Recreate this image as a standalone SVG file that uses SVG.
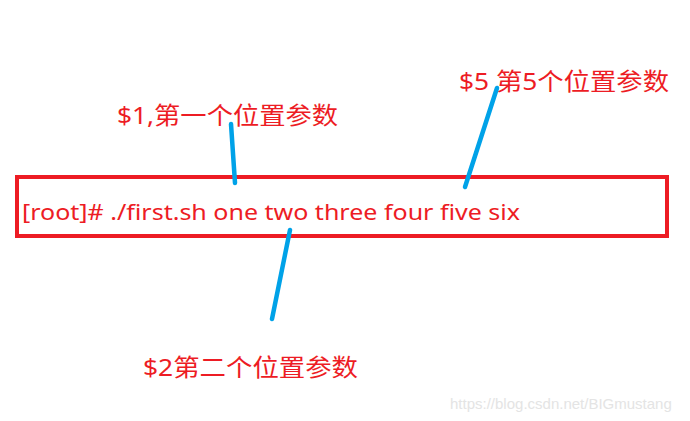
<svg xmlns="http://www.w3.org/2000/svg" width="690" height="421" viewBox="0 0 690 421">
<style>
.lbl{font-family:"Noto Sans","Noto Sans CJK SC",sans-serif;fill:#ed1c24;font-size:24px}
.cmd{font-family:"Noto Sans","Noto Sans CJK SC",sans-serif;fill:#ed1c24;font-size:21px}
.ln{stroke:#00a2e8;stroke-width:4.5;stroke-linecap:round;fill:none}
.wm{font-family:"Liberation Sans",Arial,sans-serif;fill:#e4e4e4;font-size:15px}
</style>
<rect width="690" height="421" fill="#fff"/>
<g id="cmdbox">
<rect x="17" y="177" width="650" height="59" fill="none" stroke="#ed1c24" stroke-width="4"/>
<text class="cmd" x="22" y="220" textLength="498" lengthAdjust="spacingAndGlyphs">[root]# ./first.sh one two three four five six</text>
</g>
<g id="label1"><text class="lbl" x="117" y="124" textLength="221" lengthAdjust="spacingAndGlyphs">$1,第一个位置参数</text></g>
<g id="label5"><text class="lbl" x="459" y="90" textLength="210" lengthAdjust="spacingAndGlyphs">$5 第5个位置参数</text></g>
<g id="label2"><text class="lbl" x="143" y="376" textLength="215" lengthAdjust="spacingAndGlyphs">$2第二个位置参数</text></g>
<g id="connectors">
<line class="ln" x1="231" y1="124" x2="235" y2="183"/>
<line class="ln" x1="497" y1="88" x2="465" y2="187"/>
<line class="ln" x1="290" y1="230" x2="272" y2="319"/>
</g>
<text class="wm" x="450" y="409">https://blog.csdn.net/BIGmustang</text>
</svg>
